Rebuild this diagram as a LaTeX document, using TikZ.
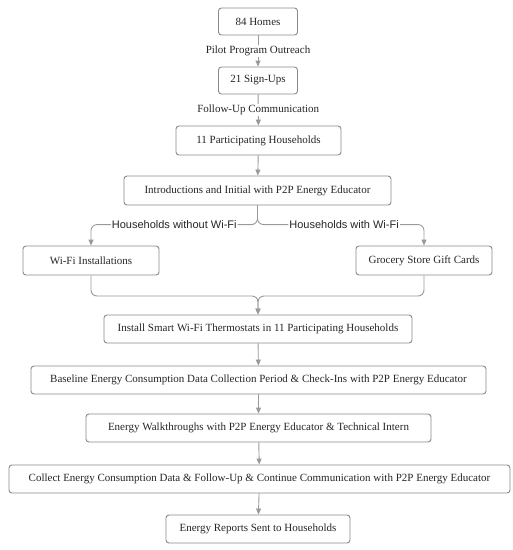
\documentclass[tikz,border=0pt]{standalone}
\usepackage{fontspec}
\setmainfont{Liberation Serif}
\newfontfamily\lblfont{Liberation Sans}
\usetikzlibrary{arrows.meta,calc}
\definecolor{boxc}{HTML}{8A8A8A}
\definecolor{arrc}{HTML}{999999}
\begin{document}
\begin{tikzpicture}[x=1pt,y=-1pt,
  box/.style={draw=boxc, line width=0.9pt, rounded corners=3pt, fill=white, inner sep=0pt, font=\fontsize{11}{13}\selectfont, text=black!85},
  arr/.style={draw=arrc, line width=0.9pt, -{Triangle[width=5pt,length=6pt]}},
  lbl/.style={fill=white, inner sep=1pt, font=\fontsize{11}{13}\selectfont, text=black!85},
  slbl/.style={fill=white, inner sep=1pt, font=\lblfont\fontsize{11}{13}\selectfont, text=black!85}]
\useasboundingbox (0,0) rectangle (513,550);
\node[box, minimum width=79pt, minimum height=27pt] (n1) at (258,21.5) {84 Homes};
\node[box, minimum width=79pt, minimum height=27pt] (n2) at (258,80.5) {21 Sign-Ups};
\node[box, minimum width=165pt, minimum height=29pt] (n3) at (258.5,140.5) {11 Participating Households};
\node[box, minimum width=267pt, minimum height=29pt] (n4) at (257.5,190.5) {Introductions and Initial with P2P Energy Educator};
\node[box, minimum width=136pt, minimum height=29pt] (n5) at (91,260.5) {Wi-Fi Installations};
\node[box, minimum width=136pt, minimum height=29pt] (n6) at (424,260.5) {Grocery Store Gift Cards};
\node[box, minimum width=308pt, minimum height=28pt] (n7) at (258,329) {Install Smart Wi-Fi Thermostats in 11 Participating Households};
\node[box, minimum width=455pt, minimum height=28pt] (n8) at (258.5,380) {Baseline Energy Consumption Data Collection Period \& Check-Ins with P2P Energy Educator};
\node[box, minimum width=345pt, minimum height=28pt] (n9) at (258.5,428) {Energy Walkthroughs with P2P Energy Educator \& Technical Intern};
\node[box, minimum width=501pt, minimum height=28pt] (n10) at (259.5,479) {Collect Energy Consumption Data \& Follow-Up \& Continue Communication with P2P Energy Educator};
\node[box, minimum width=184pt, minimum height=28pt] (n11) at (258,529) {Energy Reports Sent to Households};
\coordinate (m) at (258,296);
\draw[arr] (n1) -- node[lbl]{Pilot Program Outreach} (n2);
\draw[arr] (n2) -- node[lbl]{Follow-Up Communication} (n3);
\draw[arr] (n3) -- (n4);
\draw[arr, rounded corners=6pt] (n4.south) |- node[slbl, pos=0.75]{Households without Wi-Fi} ([yshift=21pt]n5.north) -- (n5.north);
\draw[arr, rounded corners=6pt] (n4.south) |- node[slbl, pos=0.76]{Households with Wi-Fi} ([yshift=21pt]n6.north) -- (n6.north);
\draw[arr, rounded corners=6pt] (n5.south) |- (m) -- (n7.north);
\draw[arr, rounded corners=6pt] (n6.south) |- (m) -- (n7.north);
\draw[arr] (n7) -- (n8);
\draw[arr] (n8) -- (n9);
\draw[arr] (n9) -- (n10);
\draw[arr] (n10) -- (n11);
\end{tikzpicture}
\end{document}
